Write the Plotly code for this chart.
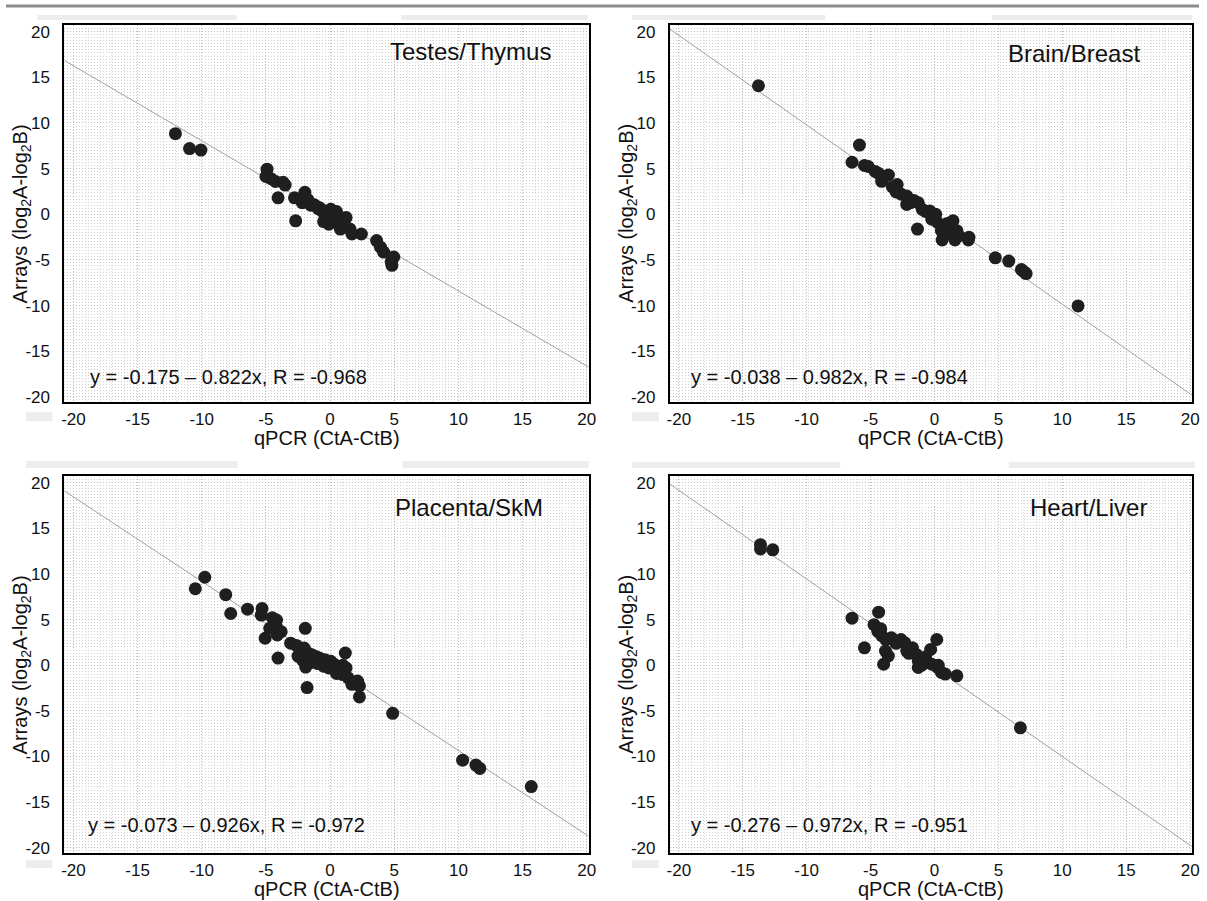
import plotly.graph_objects as go

# ---------------- data ----------------
panel_names = ["Testes/Thymus", "Brain/Breast", "Placenta/SkM", "Heart/Liver"]
intercepts = [-0.175, -0.038, -0.073, -0.276]
slopes = [-0.822, -0.982, -0.926, -0.972]
r_values = [-0.968, -0.984, -0.972, -0.951]

tick_values = [-20, -15, -10, -5, 0, 5, 10, 15, 20]
tick_labels = ["-20", "-15", "-10", "-5", "0", "5", "10", "15", "20"]

testes_x = [-12.05, -10.95, -10.06, -4.91, -5.0, -4.6, -4.26, -3.66, -3.5, -4.05,
            -2.77, -1.96, -2.68, -2.17, -1.73, -1.5, -1.28, -0.92, -0.83, -0.6,
            -0.39, 0.06, 0.36, -0.24, 0.36, 0.65, 1.25, -0.09, 0.8, 1.55,
            1.7, 2.44, 3.63, 3.93, 4.17, 4.97, 4.82, 4.76, -0.1, 0.2,
            -1.1, 0.5, 1.0, -0.5]
testes_y = [8.83, 7.2, 7.03, 4.94, 4.14, 3.9, 3.6, 3.5, 3.2, 1.8,
            1.8, 2.41, -0.72, 1.26, 1.62, 1.0, 1.08, 0.61, 0.72, 0.3,
            0.36, 0.54, 0.18, -0.54, -0.54, -0.9, -0.36, -1.08, -1.62, -1.62,
            -2.16, -2.16, -2.88, -3.6, -4.14, -4.68, -5.59, -5.2, 0.0, -0.2,
            0.9, 0.3, -1.2, -0.8]

brain_x = [-13.77, -5.87, -6.45, -5.48, -5.18, -4.64, -3.98, -4.13, -3.6, -2.92,
           -3.01, -2.6, -2.17, -1.87, -1.27, -2.17, -1.6, -0.96, -0.36, -0.21,
           -1.33, 0.24, 0.54, 0.6, 0.84, 1.45, 1.3, 1.75, 1.6, 1.9,
           2.65, 2.7, 4.76, 5.81, 6.8, 7.0, 7.17, 11.23, -0.7, 0.1,
           1.0, -4.4, -3.3]
brain_y = [14.08, 7.58, 5.7, 5.34, 5.23, 4.69, 4.15, 3.61, 4.3, 3.25,
           2.45, 2.2, 1.99, 1.26, 1.26, 1.08, 1.5, 0.54, 0.36, -0.54,
           -1.62, -0.9, -1.8, -2.82, -1.44, -0.72, -2.17, -1.8, -2.82, -2.35,
           -2.82, -2.53, -4.77, -5.13, -6.06, -6.3, -6.5, -10.04, 0.3, 0.0,
           -1.0, 4.5, 3.0]

placenta_x = [-10.5, -9.76, -8.13, -7.74, -6.43, -5.3, -5.36, -5.06, -4.17, -4.17,
              -4.7, -3.81, -4.11, -4.05, -1.93, -3.07, -2.62, -2.32, -2.02, -1.73,
              -1.43, -1.13, -2.17, -1.58, -0.83, -0.39, 0.06, 0.36, -0.09, 0.65,
              1.19, 1.25, 0.95, 1.4, 1.7, 2.14, 2.29, 2.29, -1.79, 4.88,
              10.33, 11.37, 11.67, 15.68, -1.0, -0.5, 0.2, -2.5, -1.9, -4.5,
              0.5, 1.0]
placenta_y = [8.38, 9.64, 7.73, 5.67, 6.14, 6.21, 5.49, 2.96, 4.95, 4.22,
              4.04, 3.68, 3.32, 0.79, 4.04, 2.42, 2.17, 1.7, 1.88, 1.34,
              1.16, 0.97, 0.61, 0.25, 0.79, 0.61, 0.43, 0.07, -0.29, -0.47,
              1.34, -0.29, -1.01, -1.37, -2.09, -1.73, -2.27, -3.47, -2.45, -5.27,
              -10.4, -10.94, -11.3, -13.29, 0.2, -0.1, 0.0, 1.0, -0.2, 5.2,
              -0.9, 0.0]

heart_x = [-13.61, -13.61, -12.65, -6.45, -5.48, -4.37, -4.73, -4.43, -4.13, -3.83,
           -3.98, -3.61, -3.37, -2.62, -2.32, -2.17, -1.72, -1.42, -1.27, -0.96,
           -1.27, -0.51, -0.21, -0.3, 0.18, 0.24, 0.54, 0.84, 1.75, 6.72,
           -3.0, -2.0, -0.7, 0.3, -1.0, -4.2, -3.8]
heart_y = [13.21, 12.74, 12.64, 5.16, 1.91, 5.81, 4.44, 3.72, 3.25, 1.55,
           0.11, 1.01, 3.0, 2.82, 2.45, 1.55, 1.91, 1.19, 0.47, 0.65,
           -0.25, 0.29, 0.11, 1.73, 2.82, -0.25, -0.79, -0.97, -1.16, -6.86,
           2.4, 1.3, 0.9, 0.0, 0.0, 4.0, 2.8]

series_x = [testes_x, brain_x, placenta_x, heart_x]
series_y = [testes_y, brain_y, placenta_y, heart_y]

# ---------------- layout helpers ----------------
W, H = 1207, 901
X_RANGE = [-20.7, 20.15]
Y_RANGE = [-20.6, 20.75]

# pixel boxes of the four panels (left, right, top, bottom)
boxes = [(62, 591, 23, 403), (673, 1200, 23, 403),
         (62, 591, 477, 857), (673, 1200, 477, 857)]
x_title_centers = [439, 439, 893, 893]

FONT = "Liberation Sans, Arial, sans-serif"

fig = go.Figure()
annotations = []
shapes = []

for i in range(4):
    n = i + 1
    xa = "x" if n == 1 else f"x{n}"
    ya = "y" if n == 1 else f"y{n}"
    l, r, t, b = boxes[i]

    # regression line
    lx = [X_RANGE[0], X_RANGE[1]]
    ly = [intercepts[i] + slopes[i] * v for v in lx]
    fig.add_trace(go.Scatter(x=lx, y=ly, mode="lines", xaxis=xa, yaxis=ya,
                             line=dict(color="#a0a0a0", width=1),
                             hoverinfo="skip", showlegend=False))
    # points
    fig.add_trace(go.Scatter(x=series_x[i], y=series_y[i], mode="markers",
                             xaxis=xa, yaxis=ya, showlegend=False,
                             marker=dict(size=13, color="#1f1f1f",
                                         line=dict(width=0))))

    axis_common = dict(
        tickmode="array", tickvals=tick_values, ticktext=tick_labels,
        showline=True, mirror=True, linecolor="black", linewidth=2,
        ticks="outside", tickcolor="rgba(0,0,0,0)",
        zeroline=False, showgrid=True, gridcolor="#bcbcbc",
        griddash="1px,2px", gridwidth=1,
        tickfont=dict(family=FONT, size=17, color="#111"),
    )
    xaxis = dict(axis_common)
    xaxis.update(range=X_RANGE, domain=[l / W, r / W], anchor=ya, ticks="", ticklen=0,
                 minor=dict(dtick=1, showgrid=True, gridcolor="#e0e0e0",
                            griddash="1px,2px", gridwidth=1))
    yaxis = dict(axis_common)
    yaxis.update(range=Y_RANGE, domain=[1 - b / H, 1 - t / H], anchor=xa, ticklen=9,
                 minor=dict(dtick=1 / 3, showgrid=True, gridcolor="#d2d2d2",
                            griddash="1px,2px", gridwidth=1))
    fig.layout["xaxis" if n == 1 else f"xaxis{n}"] = xaxis
    fig.layout["yaxis" if n == 1 else f"yaxis{n}"] = yaxis

    # panel label (top right)
    annotations.append(dict(text=panel_names[i], xref=f"{xa} domain", yref=f"{ya} domain",
                            x=[0.932, 0.905, 0.917, 0.917][i], y=[0.929, 0.924, 0.916, 0.916][i],
                            xanchor="right", yanchor="middle", showarrow=False,
                            font=dict(family=FONT, size=24, color="#111")))
    # regression equation
    eq = f"y = {intercepts[i]:.3f} \u2013 {abs(slopes[i]):.3f}x, R = {r_values[i]:.3f}"
    annotations.append(dict(text=eq, xref=f"{xa} domain", yref=f"{ya} domain",
                            x=[0.045, 0.037, 0.041, 0.036][i], y=[0.066, 0.066, 0.074, 0.074][i],
                            xanchor="left", yanchor="middle", showarrow=False,
                            font=dict(family=FONT, size=20, color="#111")))
    # axis titles
    annotations.append(dict(text="qPCR (CtA-CtB)", xref="paper", yref="paper",
                            x=(l + r) / 2 / W, y=1 - x_title_centers[i] / H,
                            xanchor="center", yanchor="middle", showarrow=False,
                            font=dict(family=FONT, size=20, color="#111")))
    annotations.append(dict(text="Arrays (log<sub>2</sub>A-log<sub>2</sub>B)",
                            xref="paper", yref="paper",
                            x=(l - 43) / W, y=1 - (t + b) / 2 / H, textangle=-90,
                            xanchor="center", yanchor="middle", showarrow=False,
                            font=dict(family=FONT, size=20, color="#111")))

# gray rule at the very top
shapes.append(dict(type="line", xref="paper", yref="paper", x0=3 / W, x1=1,
                   y0=1 - 4 / H, y1=1 - 4 / H, line=dict(color="#8c8c8c", width=3)))

# faint dotted strips (scan artefacts) above the panels and beside the corners
strips = [(35, 236, 13, 18), (402, 590, 13, 18), (635, 830, 13, 18), (998, 1200, 13, 18),
          (23, 237, 462, 469), (403, 591, 462, 469), (635, 845, 463, 469), (1015, 1203, 463, 469),
          (23, 50, 413, 422), (635, 662, 413, 422), (23, 50, 864, 872), (635, 662, 864, 872)]
for (x0, x1, y0, y1) in strips:
    shapes.append(dict(type="rect", xref="paper", yref="paper",
                       x0=x0 / W, x1=x1 / W, y0=1 - y1 / H, y1=1 - y0 / H,
                       fillcolor="#ededed", line=dict(width=0), layer="below"))

fig.update_layout(width=W, height=H, autosize=False,
                  margin=dict(l=0, r=0, t=0, b=0),
                  paper_bgcolor="white", plot_bgcolor="white",
                  annotations=annotations, shapes=shapes,
                  font=dict(family=FONT, color="#111"))

fig.write_html("out.html")
